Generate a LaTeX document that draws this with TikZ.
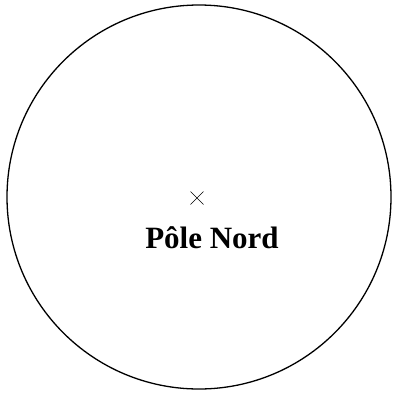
\documentclass[tikz,border=0pt]{standalone}
\usepackage{fontspec}
\setmainfont{Liberation Serif}
\usetikzlibrary{positioning}

\begin{document}
\begin{tikzpicture}[x=1pt,y=-1pt,line width=1.3pt]
  \useasboundingbox (0,0) rectangle (393,394);
  % la Terre vue du dessus
  \draw (199,197) circle[radius=192];
  % pole
  \coordinate (pole) at (197,198);
  \draw[line width=0.5pt] (pole) ++(-6.5,-6.5) -- ++(13,13) (pole) ++(-6.5,6.5) -- ++(13,-13);
  \node[font=\bfseries\fontsize{31}{36}\selectfont,below=28pt of pole,xshift=15pt,inner sep=0pt] (label) {Pôle Nord};
\end{tikzpicture}
\end{document}
